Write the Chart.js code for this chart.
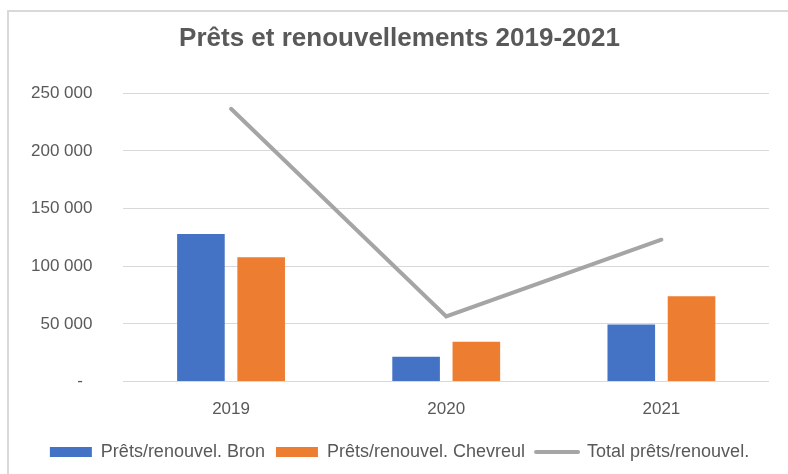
<!DOCTYPE html>
<html>
<head>
<meta charset="utf-8">
<script src="https://cdn.jsdelivr.net/npm/chart.js@4/dist/chart.umd.min.js"></script>
<style>
  html, body { margin: 0; padding: 0; background: #ffffff; }
  #wrap { position: relative; width: 788px; height: 474px; }
  #frame { position: absolute; left: 7px; top: 10px; right: 0; bottom: 0;
           border-top: 2px solid #D9D9D9; border-left: 2px solid #D9D9D9; }
  canvas { position: absolute; left: 0; top: 0; }
</style>
</head>
<body>
<div id="wrap">
  <div id="frame"></div>
  <canvas id="c" width="788" height="474"></canvas>
</div>
<script>
const categories = ['2019', '2020', '2021'];
const bronValues = [128000, 21500, 49500];
const chevreulValues = [107800, 34500, 74000];
const totalValues = [236500, 56500, 123000];
const seriesNames = ['Prêts/renouvel. Bron', 'Prêts/renouvel. Chevreul', 'Total prêts/renouvel.'];
const chartTitle = 'Prêts et renouvellements 2019-2021';

const FONT = '"Liberation Sans", Arial, sans-serif';
const TEXT = '#595959';

function fmt(v) {
  if (v === 0) return '-  ';
  return String(v).replace(/\B(?=(\d{3})+(?!\d))/g, ' ');
}

new Chart(document.getElementById('c'), {
  type: 'bar',
  data: {
    labels: categories,
    datasets: [
      { label: seriesNames[0], data: bronValues, backgroundColor: '#4472C4',
        categoryPercentage: 0.56, barPercentage: 0.79 },
      { label: seriesNames[1], data: chevreulValues, backgroundColor: '#ED7D31',
        categoryPercentage: 0.56, barPercentage: 0.79 },
      { type: 'line', label: seriesNames[2], data: totalValues, borderColor: '#A5A5A5',
        backgroundColor: '#A5A5A5', borderWidth: 4, pointRadius: 0, pointHoverRadius: 0,
        borderCapStyle: 'round', borderJoinStyle: 'miter', tension: 0, fill: false }
    ]
  },
  options: {
    responsive: false,
    animation: false,
    layout: { padding: { left: 30, right: 19, top: 0, bottom: 3 } },
    scales: {
      x: {
        grid: { display: false },
        border: { display: false },
        ticks: { color: TEXT, font: { family: FONT, size: 17 }, padding: 10 },
        afterFit: (s) => { s.height += 2; }
      },
      y: {
        min: 0, max: 250000,
        grid: { color: '#D9D9D9', lineWidth: 1, drawTicks: false },
        border: { display: false },
        ticks: { stepSize: 50000, color: TEXT, font: { family: FONT, size: 17 }, padding: 31,
                 callback: (v) => fmt(v) },
        afterFit: (s) => { s.width -= 30; }
      }
    },
    plugins: {
      tooltip: { enabled: false },
      title: {
        display: true, text: chartTitle, color: TEXT,
        font: { family: FONT, size: 26, weight: 'bold' },
        padding: { top: 23, bottom: 39 }
      },
      legend: {
        position: 'bottom',
        labels: {
          color: TEXT, font: { family: FONT, size: 18 },
          usePointStyle: true, pointStyleWidth: 42, boxHeight: 10, padding: 11,
          generateLabels: (chart) => {
            const items = Chart.defaults.plugins.legend.labels.generateLabels(chart);
            items.forEach((it) => {
              const ds = chart.data.datasets[it.datasetIndex];
              if (ds.type === 'line') {
                it.pointStyle = 'line'; it.lineWidth = 4; it.strokeStyle = '#A5A5A5'; it.lineCap = 'round';
              } else {
                it.pointStyle = 'rect'; it.lineWidth = 0; it.fillStyle = ds.backgroundColor;
              }
            });
            return items;
          }
        }
      }
    }
  }
});
</script>
</body>
</html>
